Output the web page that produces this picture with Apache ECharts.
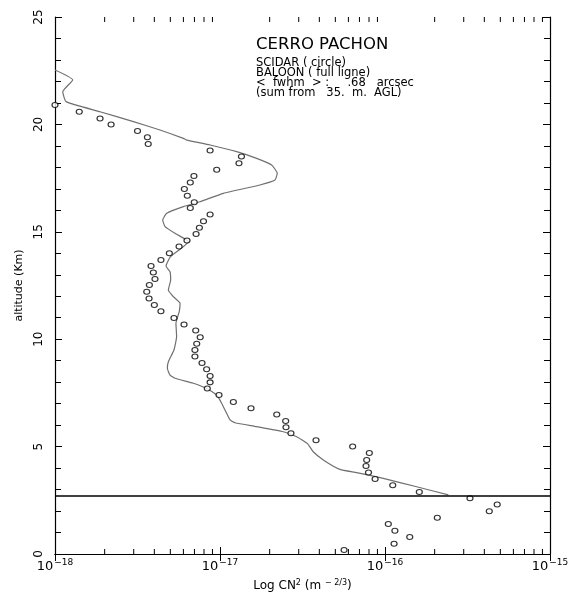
<!DOCTYPE html>
<html><head><meta charset="utf-8">
<script src="https://cdn.jsdelivr.net/npm/echarts@6/dist/echarts.min.js"></script>
<style>html,body{margin:0;padding:0;background:#fff}#c{width:574px;height:597px}</style>
</head><body><div id="c"></div>
<script>
// SCIDAR (circles): log10 CN2 and altitude (km)
const scidarLogCn2 = [-18.0,-17.853,-17.727,-17.66,-17.50,-17.44,-17.435,-17.06,-16.87,-16.885,-17.02,-17.158,-17.18,-17.216,-17.198,-17.156,-17.18,-17.06,-17.10,-17.125,-17.145,-17.20,-17.248,-17.307,-17.358,-17.418,-17.404,-17.394,-17.428,-17.444,-17.43,-17.398,-17.358,-17.279,-17.218,-17.147,-17.12,-17.141,-17.152,-17.152,-17.109,-17.081,-17.06,-17.06,-17.077,-17.006,-16.919,-16.812,-16.656,-16.602,-16.60,-16.57,-16.418,-16.196,-16.095,-16.111,-16.115,-16.10,-16.06,-15.953,-15.792,-15.485,-15.32,-15.368,-15.683,-15.98,-15.94,-15.85,-15.945,-16.248];
const scidarAlt = [20.9,20.59,20.28,20.0,19.69,19.40,19.09,18.79,18.5,18.19,17.89,17.6,17.30,16.99,16.68,16.37,16.11,15.80,15.49,15.19,14.90,14.59,14.31,14.0,13.69,13.41,13.10,12.80,12.52,12.21,11.89,11.59,11.30,10.99,10.69,10.40,10.09,9.79,9.50,9.19,8.89,8.60,8.29,7.99,7.71,7.40,7.08,6.78,6.50,6.19,5.90,5.62,5.29,5.0,4.70,4.38,4.10,3.79,3.49,3.20,2.89,2.59,2.30,1.99,1.69,1.40,1.08,0.79,0.48,0.19];
// Balloon (full line)
const balloonLogCn2 = [-18.0,-17.893,-17.953,-17.933,-17.727,-17.525,-17.364,-17.222,-17.202,-17.06,-16.899,-16.778,-16.687,-16.653,-16.667,-16.758,-16.98,-17.121,-17.222,-17.323,-17.347,-17.333,-17.273,-17.202,-17.19,-17.24,-17.30,-17.327,-17.303,-17.299,-17.313,-17.283,-17.242,-17.247,-17.267,-17.263,-17.279,-17.313,-17.319,-17.303,-17.273,-17.162,-17.081,-17.02,-16.99,-16.96,-16.939,-16.909,-16.778,-16.616,-16.535,-16.471,-16.435,-16.374,-16.273,-16.172,-16.01,-15.808,-15.616];
const balloonAlt = [22.53,22.07,21.52,21.06,20.59,20.13,19.74,19.35,19.27,19.04,18.73,18.42,18.11,17.72,17.41,17.18,16.79,16.40,16.17,15.86,15.55,15.24,14.93,14.62,14.55,14.2,13.84,13.41,13.14,12.76,12.29,11.98,11.67,11.28,10.74,10.12,9.50,8.95,8.65,8.33,8.18,7.95,7.71,7.40,7.02,6.55,6.24,6.11,5.93,5.69,5.46,5.15,4.76,4.38,3.94,3.79,3.52,3.13,2.75];
const groundLayerAlt = 2.7;
const xMin = 1e-18, xMax = 1e-15;
const minorXTicks = [];
[-18, -17, -16].forEach(e => { for (let m = 2; m <= 9; m++) minorXTicks.push(m * Math.pow(10, e)); });
const infoTitle = 'CERRO PACHON';
const infoLines = ['SCIDAR ( circle)', 'BALOON ( full ligne)', '<  fwhm  > :     .68   arcsec', '(sum from   35.  m.  AGL)'];

const FONT = 'DejaVu Sans';
const chart = echarts.init(document.getElementById('c'), null, {renderer: 'canvas'});
const expLabel = v => {
  const e = Math.round(Math.log10(v));
  return '{b|10}{s|' + (e < 0 ? '\u2212' + (-e) : e) + '}';
};
const xCommon = {
  type: 'log', logBase: 10, min: xMin, max: xMax,
  axisLine: {show: true, lineStyle: {color: '#000', width: 1.2}},
  axisTick: {show: true, inside: true, length: 7, lineStyle: {color: '#000'}},
  splitLine: {show: false}, minorTick: {show: false}, minorSplitLine: {show: false}
};
const yCommon = {
  type: 'value', min: 0, max: 25, interval: 5,
  axisLine: {show: true, lineStyle: {color: '#000', width: 1.2}},
  axisTick: {show: true, inside: true, length: 7, lineStyle: {color: '#000'}},
  minorTick: {show: true, splitNumber: 5, length: 6, lineStyle: {color: '#000'}},
  splitLine: {show: false}
};
chart.setOption({
  animation: false,
  backgroundColor: '#fff',
  grid: {left: 55, right: 24, top: 17, bottom: 43},
  xAxis: [
    Object.assign({}, xCommon, {
      position: 'bottom',
      name: '{n|Log CN}{s|2}{n| (m }{s|\u2212 2/3}{n|)}',
      nameLocation: 'middle', nameGap: 25,
      nameTextStyle: {rich: {
        n: {fontFamily: FONT, fontSize: 12, color: '#000'},
        s: {fontFamily: FONT, fontSize: 8, color: '#000', verticalAlign: 'bottom', padding: [0, 0, 6, 0]}
      }},
      axisLabel: {margin: 4, formatter: expLabel, rich: {
        b: {fontFamily: FONT, fontSize: 13, color: '#000', verticalAlign: 'bottom'},
        s: {fontFamily: FONT, fontSize: 9, color: '#000', verticalAlign: 'bottom', padding: [0, 0, 6, 1]}
      }}
    }),
    Object.assign({}, xCommon, {position: 'top', axisLabel: {show: false}})
  ],
  yAxis: [
    Object.assign({}, yCommon, {
      position: 'left',
      name: 'altitude (Km)', nameLocation: 'middle', nameGap: 30,
      nameTextStyle: {fontFamily: FONT, fontSize: 11, color: '#000'},
      axisLabel: {rotate: 90, margin: 10, fontFamily: FONT, fontSize: 12, color: '#000'}
    }),
    Object.assign({}, yCommon, {position: 'right', axisLabel: {show: false}})
  ],
  graphic: [
    {type: 'text', left: 256, top: 36, style: {text: infoTitle, fontFamily: FONT, fontSize: 16.5, fill: '#000'}},
    {type: 'text', left: 256, top: 57, style: {text: infoLines.join('\n'), fontFamily: FONT, fontSize: 11.5, lineHeight: 10, fill: '#000'}}
  ],
  series: [
    {
      type: 'line', name: 'balloon', xAxisIndex: 0, yAxisIndex: 0,
      data: balloonLogCn2.map((v, i) => [Math.pow(10, v), balloonAlt[i]]),
      showSymbol: false, symbol: 'none', smooth: 0.15,
      lineStyle: {color: '#707070', width: 1.2}, silent: true, z: 3
    },
    {
      type: 'scatter', name: 'scidar', xAxisIndex: 0, yAxisIndex: 0,
      data: scidarLogCn2.map((v, i) => [Math.pow(10, v), scidarAlt[i]]),
      symbol: 'circle', symbolSize: [6, 5],
      itemStyle: {color: '#fff', borderColor: '#000', borderWidth: 1.1},
      silent: true, z: 4,
      markLine: {
        silent: true, symbol: 'none', label: {show: false},
        lineStyle: {color: '#000', width: 1.6, type: 'solid'},
        data: [{yAxis: groundLayerAlt}]
      }
    },
    {
      type: 'custom', name: 'minorTicks', xAxisIndex: 0, yAxisIndex: 0, silent: true, clip: false,
      data: minorXTicks.map(v => [v]),
      renderItem: (params, api) => {
        const v = api.value(0);
        const b = api.coord([v, 0]);
        const t = api.coord([v, 25]);
        const st = {stroke: '#000', lineWidth: 1};
        return {type: 'group', children: [
          {type: 'line', shape: {x1: b[0], y1: b[1], x2: b[0], y2: b[1] - 5}, style: st},
          {type: 'line', shape: {x1: t[0], y1: t[1], x2: t[0], y2: t[1] + 5}, style: st}
        ]};
      }
    }
  ]
});
</script></body></html>
